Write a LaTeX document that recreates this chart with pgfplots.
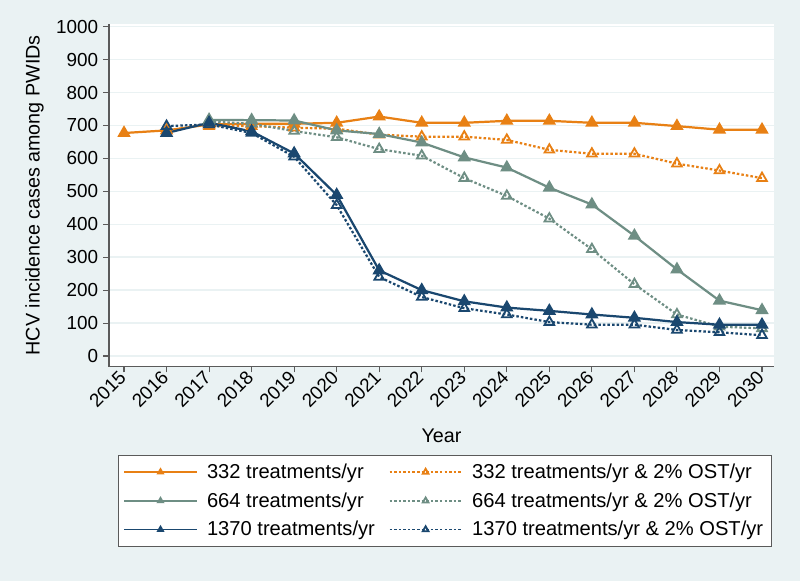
\documentclass[border=0pt]{standalone}
\usepackage{fontspec}
\setmainfont{Liberation Sans}
\usepackage{pgfplots}
\pgfplotsset{compat=1.18}
\definecolor{stbg}{RGB}{234,242,243}
\definecolor{storange}{RGB}{232,128,20}
\definecolor{stteal}{RGB}{110,142,132}
\definecolor{stnavy}{RGB}{26,71,111}
\definecolor{staxis}{RGB}{90,90,90}

\begin{document}
\begin{tikzpicture}
\fill[stbg] (0pt,0pt) rectangle (576pt,418.32pt);
\useasboundingbox (0pt,0pt) rectangle (576pt,418.32pt);
\begin{axis}[
  at={(78.48pt,154.44pt)}, anchor=south west,
  scale only axis, width=478.8pt, height=246.6pt,
  xmin=2014.647, xmax=2030.282, ymin=-31.9, ymax=1008,
  axis background/.style={fill=white},
  axis lines*=left,
  axis line style={staxis, line width=1pt},
  tick align=outside, major tick length=4.3pt,
  tick style={staxis, line width=0.8pt},
  xtick={2015,2016,...,2030},
  ytick={0,100,...,1000},
  /pgf/number format/1000 sep={},
  /pgf/number format/assume math mode=true,
  ymajorgrids, grid style={stbg, line width=1pt},
  tick label style={font=\fontsize{13.6}{16}\selectfont},
  xticklabel style={rotate=45, anchor=east, inner sep=1.5pt},
  label style={font=\fontsize{14.2}{17}\selectfont},
  xlabel={Year}, ylabel={HCV incidence cases among PWIDs},
  xlabel style={yshift=-9pt},
  ylabel style={yshift=2pt},
  every axis plot/.append style={line width=1.6pt, mark size=4pt},
  legend columns=2,
  legend cell align=left,
  legend style={at={(0.505,-0.258)}, anchor=north,
    font=\fontsize{14.5}{17}\selectfont, draw=staxis, fill=white, line width=0.8pt,
    column sep=5pt, row sep=4.7pt, inner xsep=4pt, inner ysep=4pt,
    /tikz/every even column/.append style={column sep=8pt}},
  legend image code/.code={\draw[line width=1pt, mark repeat=2,mark phase=2,mark size=2.4pt]
    plot coordinates {(0pt,0pt) (26pt,0pt) (52pt,0pt)};},
]
\pgfplotsset{
  solidser/.style={solid, mark=triangle*, mark options={solid}},
  dotser/.style={dash pattern=on 1.8pt off 1.5pt, mark=triangle,
    mark options={solid, fill=white, line width=1.3pt}},
}
\addplot[storange, solidser] coordinates {
 (2015,677) (2016,685) (2017,703) (2018,705) (2019,705) (2020,708) (2021,727) (2022,708)
 (2023,708) (2024,714) (2025,714) (2026,708) (2027,708) (2028,698) (2029,687) (2030,687)};
\addlegendentry{332 treatments/yr}
\addplot[storange, dotser] coordinates {
 (2017,698) (2018,698) (2019,693) (2020,690) (2021,672) (2022,666) (2023,666)
 (2024,656) (2025,626) (2026,614) (2027,614) (2028,584) (2029,563) (2030,540)};
\addlegendentry{332 treatments/yr \& 2\% OST/yr}
\addplot[stteal, solidser] coordinates {
 (2017,717) (2018,716) (2019,715) (2020,685) (2021,674) (2022,648) (2023,603)
 (2024,572) (2025,511) (2026,460) (2027,365) (2028,263) (2029,168) (2030,139)};
\addlegendentry{664 treatments/yr}
\addplot[stteal, dotser] coordinates {
 (2017,712) (2018,705) (2019,683) (2020,664) (2021,628) (2022,608) (2023,540)
 (2024,486) (2025,417) (2026,324) (2027,218) (2028,126) (2029,89) (2030,84)};
\addlegendentry{664 treatments/yr \& 2\% OST/yr}
\addplot[stnavy, solidser] coordinates {
 (2016,677) (2017,708) (2018,682) (2019,615) (2020,489) (2021,260) (2022,200) (2023,166)
 (2024,147) (2025,137) (2026,126) (2027,116) (2028,103) (2029,95) (2030,95)};
\addlegendentry{1370 treatments/yr}
\addplot[stnavy, dotser] coordinates {
 (2016,698) (2017,703) (2018,677) (2019,605) (2020,458) (2021,240) (2022,179) (2023,145)
 (2024,126) (2025,103) (2026,95) (2027,95) (2028,79) (2029,72) (2030,63)};
\addlegendentry{1370 treatments/yr \& 2\% OST/yr}
\end{axis}
\end{tikzpicture}
\end{document}
